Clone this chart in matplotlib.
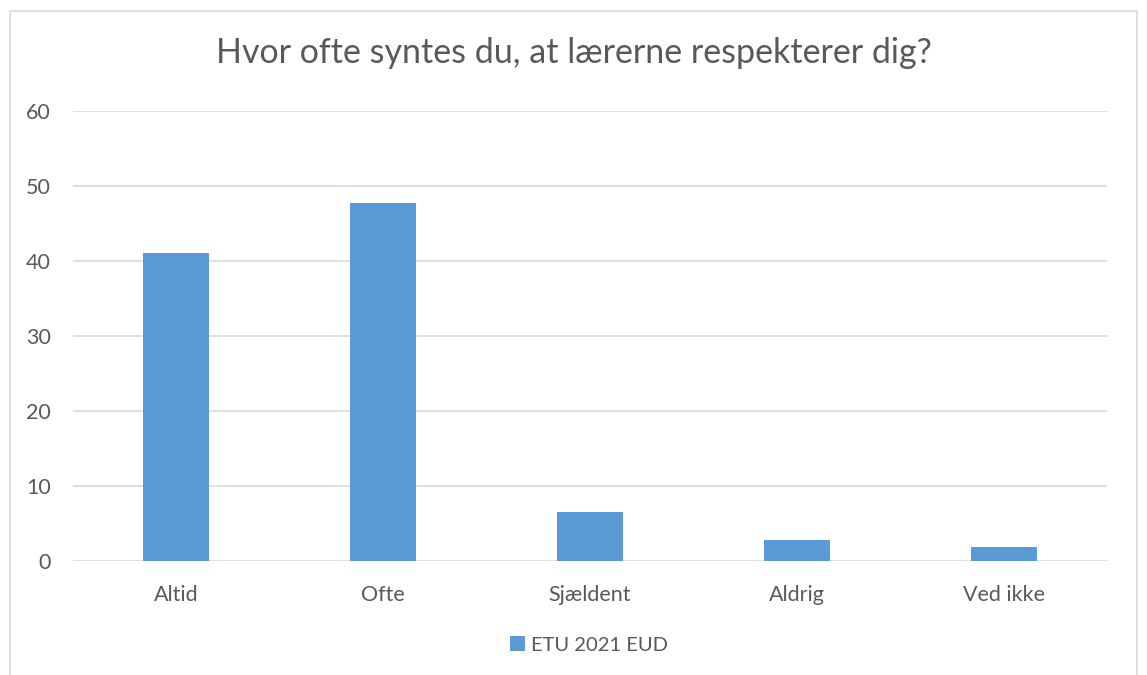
import numpy as np
import matplotlib
matplotlib.use("Agg")
import matplotlib.pyplot as plt
from matplotlib.patches import Rectangle

categories = ["Altid", "Ofte", "Sjældent", "Aldrig", "Ved ikke"]
values = [41.1, 47.7, 6.5, 2.8, 1.9]
series_name = "ETU 2021 EUD"
title = "Hvor ofte syntes du, at lærerne respekterer dig?"

bar_color = "#5B9BD5"
text_color = "#595959"
grid_color = "#D9D9D9"

plt.rcParams['font.family'] = ['Lato', 'DejaVu Sans']

W, H = 1147, 675
fig = plt.figure(figsize=(W / 100, H / 100), dpi=100)

# chart frame
fig.patches.append(Rectangle((10 / W, -0.05), 1127 / W, 1.05 - 11 / H,
                             transform=fig.transFigure, fill=False,
                             edgecolor=grid_color, linewidth=1.2))

ax = fig.add_axes([73 / W, 1 - 561 / H, 1034 / W, 450 / H])
x = np.arange(len(categories))
ax.bar(x, values, width=0.32, color=bar_color, label=series_name, zorder=3)

ax.set_xlim(-0.5, len(categories) - 0.5)
ax.set_ylim(0, 60)
ax.set_yticks(np.arange(0, 61, 10))
ax.set_xticks(x)
ax.set_xticklabels(categories)
ax.grid(axis='y', color=grid_color, linewidth=1.2, zorder=0)
for s in ax.spines.values():
    s.set_visible(False)
ax.tick_params(axis='both', length=0, labelsize=15.5, labelcolor=text_color)
ax.tick_params(axis='x', pad=17)
ax.tick_params(axis='y', pad=16)

fig.text(0.5, 1 - 53 / H, title, ha='center', va='center',
         fontsize=24.5, color=text_color, fontweight='normal')

fig.legend(loc='center', bbox_to_anchor=(589 / W, 1 - 645 / H), frameon=False,
           fontsize=14.5, labelcolor=text_color, handlelength=0.7,
           handleheight=0.7, handletextpad=0.3)

fig.savefig("out.png", dpi=100)
